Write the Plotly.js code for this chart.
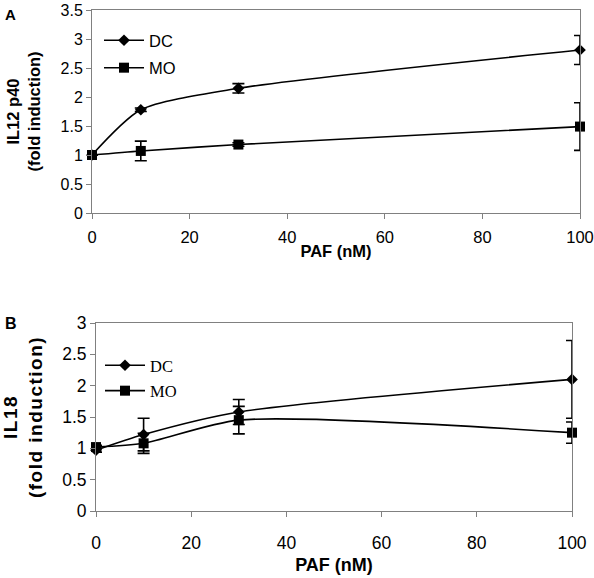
<!DOCTYPE html>
<html>
<head>
<meta charset="utf-8">
<script src="https://cdn.plot.ly/plotly-3.0.1.min.js"></script>
<style>
html,body{margin:0;padding:0;background:#fff;}
#chart{width:594px;height:578px;}
.g-y2title text{letter-spacing:1.5px;}
</style>
</head>
<body>
<div id="chart"></div>
<script>
// Data
var pafNM = [0, 10, 30, 100];
var seriesNames = ['DC', 'MO'];
// Panel A: IL12 p40 fold induction
var a_DC = [1.00, 1.78, 2.15, 2.81];
var a_DC_err = [0, 0.03, 0.08, 0.25];
var a_MO = [1.00, 1.07, 1.18, 1.49];
var a_MO_err = [0, 0.17, 0.03, 0.41];
// Panel B: IL18 fold induction
var b_DC = [0.97, 1.22, 1.58, 2.10];
var b_DC_err = [0.03, 0.26, 0.20, 0.62];
var b_MO = [1.02, 1.08, 1.45, 1.25];
var b_MO_err = [0.03, 0.16, 0.22, 0.17];
var xTicks = [0, 20, 40, 60, 80, 100];
var yTicksA = [0, 0.5, 1, 1.5, 2, 2.5, 3, 3.5];
var yTicksB = [0, 0.5, 1, 1.5, 2, 2.5, 3];

var W = 594, H = 578;
function px(x){return x / W;}
function py(y){return 1 - y / H;}

function trace(y, err, name, sym, msize, xa, ya, leg, grp){
  return {
    x: pafNM, y: y, name: name, type: 'scatter', mode: 'lines+markers',
    xaxis: xa, yaxis: ya, legend: leg, legendgroup: grp,
    line: {color: '#000', width: 1.6, shape: 'spline', smoothing: 0.7},
    marker: {symbol: sym, size: msize, color: '#000'},
    error_y: {type: 'data', array: err, visible: true, color: '#000', thickness: 1.6, width: 6},
    cliponaxis: false
  };
}

var data = [
  trace(a_DC, a_DC_err, seriesNames[0], 'diamond', 9, 'x', 'y', 'legend', 'a1'),
  trace(a_MO, a_MO_err, seriesNames[1], 'square', 10, 'x', 'y', 'legend', 'a2'),
  trace(b_DC, b_DC_err, seriesNames[0], 'diamond', 9, 'x2', 'y2', 'legend2', 'b1'),
  trace(b_MO, b_MO_err, seriesNames[1], 'square', 10, 'x2', 'y2', 'legend2', 'b2')
];

var axBase = {
  showline: true, linecolor: '#808080', linewidth: 1, mirror: true,
  ticks: 'outside', ticklen: 5, tickcolor: '#808080', tickwidth: 1,
  showgrid: false, zeroline: false, automargin: false, ticklabeloverflow: 'allow'
};
function ax(extra){ return Object.assign({}, axBase, extra); }

var sans = 'Arial, "Liberation Sans", sans-serif';
var serif = '"Times New Roman", "Liberation Serif", serif';

var layout = {
  width: W, height: H,
  margin: {l: 0, r: 0, t: 0, b: 0},
  paper_bgcolor: '#fff', plot_bgcolor: '#fff',
  font: {family: sans, color: '#000'},
  showlegend: true,
  xaxis: ax({
    domain: [px(92), px(580)], anchor: 'y', range: [0, 100],
    tickvals: xTicks, tickfont: {size: 16.5, family: sans}, ticklabelstandoff: 4,
    title: {text: '<b>PAF (nM)</b>', font: {size: 16.5, family: sans}, standoff: 0}
  }),
  yaxis: ax({
    domain: [py(213), py(10)], anchor: 'x', range: [0, 3.5],
    tickvals: yTicksA, tickfont: {size: 16, family: sans},
    title: {text: '<b>IL12 p40<br>(fold induction)</b>', font: {size: 16.5, family: sans}, standoff: 15}
  }),
  xaxis2: ax({
    domain: [px(96), px(572)], anchor: 'y2', range: [0, 100],
    tickvals: xTicks, tickfont: {size: 17.5, family: sans}, ticklabelstandoff: 11,
    title: {text: '<b>PAF (nM)</b>', font: {size: 18, family: sans}, standoff: 6}
  }),
  yaxis2: ax({
    domain: [py(511), py(323)], anchor: 'x2', range: [0, 3],
    tickvals: yTicksB, tickfont: {size: 17.5, family: sans},
    title: {text: '<b>IL18<br>(fold induction)</b>', font: {size: 19, family: sans}, standoff: 15}
  }),
  legend: {
    x: px(99), y: py(23), xanchor: 'left', yanchor: 'top',
    bgcolor: 'rgba(0,0,0,0)', borderwidth: 0,
    font: {size: 16.5, family: sans}, tracegroupgap: 3, itemwidth: 40
  },
  legend2: {
    x: px(100), y: py(348), xanchor: 'left', yanchor: 'top',
    bgcolor: 'rgba(0,0,0,0)', borderwidth: 0,
    font: {size: 16.5, family: serif}, tracegroupgap: 1, itemwidth: 40
  },
  annotations: [
    {text: '<b>A</b>', x: px(3), y: py(4), xref: 'paper', yref: 'paper', xanchor: 'left', yanchor: 'top', showarrow: false, font: {size: 15, family: sans}},
    {text: '<b>B</b>', x: px(3), y: py(313), xref: 'paper', yref: 'paper', xanchor: 'left', yanchor: 'top', showarrow: false, font: {size: 16, family: sans}}
  ]
};

Plotly.newPlot('chart', data, layout, {displayModeBar: false, staticPlot: true});
</script>
</body>
</html>
